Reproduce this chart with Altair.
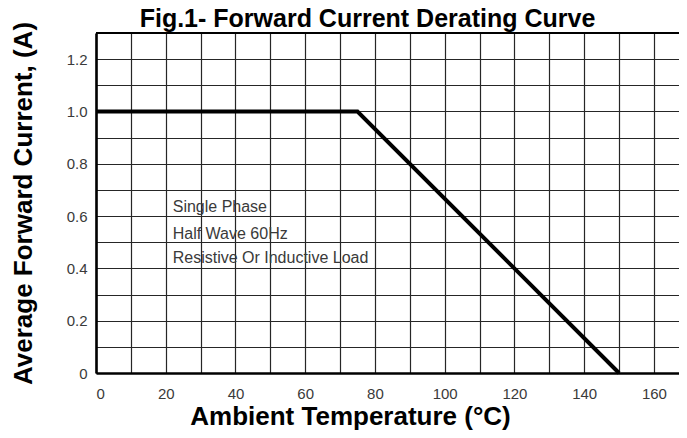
import altair as alt
import pandas as pd

# Derating curve
temp = [0, 75, 150]
current = [1.0, 1.0, 0.0]

# Annotation text
notes = ["Single Phase", "Half Wave 60Hz", "Resistive Or Inductive Load"]
note_x = [22, 22, 22]
note_y = [0.634, 0.532, 0.438]

# Grid / tick values
x_ticks = list(range(0, 170, 10))
y_ticks = [round(i * 0.1, 1) for i in range(0, 13)]
y_top = [1.3]

FONT = "Liberation Sans"

curve_df = pd.DataFrame({"t": temp, "i": current})
note_df = pd.DataFrame({"label": notes, "x": note_x, "y": note_y})
top_df = pd.DataFrame({"y": y_top})

x_scale = alt.Scale(domain=[0, 167.2], nice=False, zero=False)
y_scale = alt.Scale(domain=[0, 1.3], nice=False)

x_axis = alt.Axis(
    values=x_ticks,
    title="Ambient Temperature (°C)",
    labelExpr="datum.value % 20 == 0 ? datum.label : ''",
    grid=True, gridColor="#262626", gridWidth=1.2, gridOpacity=1,
    ticks=False, labelPadding=13,
    domain=True, domainColor="#000000", domainWidth=2.6,
    labelFont=FONT, labelFontSize=15, labelColor="#3a3a3a",
    titleFont=FONT, titleFontSize=26, titleFontWeight="bold", titleColor="#000000",
    titleX=254, titleY=51, titleBaseline="alphabetic", titleAlign="center",
)
y_axis = alt.Axis(
    values=y_ticks,
    title="Average Forward Current, (A)",
    labelExpr="round(datum.value * 10) % 2 == 0 ? (datum.value == 0 ? '0' : format(datum.value, '.1f')) : ''",
    grid=True, gridColor="#262626", gridWidth=1.2, gridOpacity=1,
    ticks=False, labelPadding=9,
    domain=True, domainColor="#000000", domainWidth=2.6,
    labelFont=FONT, labelFontSize=15, labelColor="#3a3a3a",
    titleFont=FONT, titleFontSize=26, titleFontWeight="bold", titleColor="#000000",
    titleX=-73, titleY=170, titleAngle=-90, titleBaseline="middle", titleAlign="center",
)

line = alt.Chart(curve_df).mark_line(color="#000000", strokeWidth=4).encode(
    x=alt.X("t:Q", scale=x_scale, axis=x_axis),
    y=alt.Y("i:Q", scale=y_scale, axis=y_axis),
)

top_rule = alt.Chart(top_df).mark_rule(color="#000000", strokeWidth=2.2).encode(
    y=alt.Y("y:Q", scale=y_scale, axis=y_axis),
)

text = alt.Chart(note_df).mark_text(
    align="left", baseline="middle", font=FONT, fontSize=16, color="#3a3a3a"
).encode(
    x=alt.X("x:Q", scale=x_scale, axis=x_axis),
    y=alt.Y("y:Q", scale=y_scale, axis=y_axis),
    text="label:N",
)

chart = alt.layer(line, top_rule, text).properties(
    width=583,
    height=340,
    title=alt.TitleParams(
        text="Fig.1- Forward Current Derating Curve",
        font=FONT, fontSize=25, fontWeight="bold", color="#000000",
        anchor="middle", dx=-20, offset=-11,
    ),
    autosize=alt.AutoSizeParams(type="none"),
    padding={"left": 88, "top": 25, "right": 0, "bottom": 57},
).configure_view(stroke=None).configure(background="#ffffff")

chart.save("out.html", embed_options={"renderer": "svg", "actions": False})
